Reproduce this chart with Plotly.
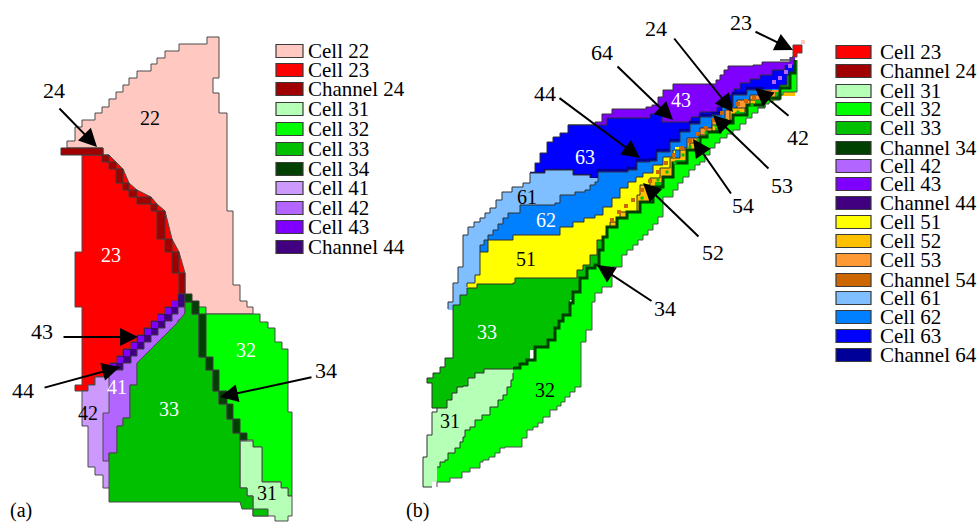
import plotly.graph_objects as go

COL = {"Cell 22":"#FFC8C0","Cell 23":"#FF0000","Channel 24":"#A00000","Cell 31":"#B6FFB6","Cell 32":"#00FF00",
       "Cell 33":"#00C000","Cell 34":"#004000","Channel 34":"#004000","Cell 41":"#CC99FF","Cell 42":"#B266FF",
       "Cell 43":"#8000FF","Channel 44":"#400080","Cell 51":"#FFFF00","Cell 52":"#FFC000","Cell 53":"#FF9933",
       "Channel 54":"#CC6600","Cell 61":"#80BFFF","Cell 62":"#0080FF","Cell 63":"#0000FF","Channel 64":"#000099"}

# ---------- panel (a) outlines ----------
A_22 = [(207,37),(219,37),(219,78),(213,78),(213,93),(219,93),(219,113),(227,113),(227,211),(233,211),(233,285),(240,285),
        (240,301),(247,301),(247,307),(253,307),(253,314),(199,314),(185,300),(103,155),(103,148),(67,148),(67,141),(75,141),
        (75,127),(82,127),(82,120),(95,120),(95,113),(102,113),(102,107),(109,107),(109,99),(116,99),(116,92),(123,92),(123,85),
        (129,85),(129,78),(137,78),(137,71),(151,71),(151,64),(157,64),(157,58),(165,58),(165,51),(179,51),(179,44),(207,44)]
A_23 = [(82,155),(82,252),(75,252),(75,307),(82,307),(82,385),(75,385),(75,391),(88,391),(88,385),(95,385),(95,377),(110,377),
        (185,300),(185,273),(179,252),(172,239),(165,211),(157,204),(151,197),(137,190),(129,183),(123,169),(116,162),(109,155),(102,155)]
A_41 = [(109,377),(95,377),(95,385),(88,385),(88,391),(82,391),(82,426),(88,426),(88,467),(95,467),(95,475),(103,475),(103,488),
        (109,488),(125,440)]
A_42 = [(185,307),(185,320),(178,320),(178,328),(172,328),(172,335),(165,335),(165,342),(158,342),(158,349),(151,349),(151,356),
        (144,356),(144,363),(137,363),(137,385),(130,385),(130,418),(123,418),(123,426),(117,426),(117,453),(109,453),(109,461),
        (103,461),(103,413),(109,413),(109,370),(117,363),(178,301)]
A_44 = [(185,294),(178,294),(178,301),(172,301),(172,307),(165,307),(165,314),(158,314),(158,321),(151,321),(151,328),(144,328),
        (144,335),(137,335),(137,342),(131,342),(131,349),(123,349),(123,356),(117,356),(117,363),(110,363),(110,370),(123,370),
        (123,363),(131,363),(131,356),(137,356),(137,349),(144,349),(144,342),(151,342),(151,335),(158,335),(158,328),(165,328),
        (165,321),(172,321),(172,314),(178,314),(178,307),(185,307)]
A_43_SQUARES_X = [175,168,161,155,148,141,134,127,120,113]
A_43_SQUARES_Y = [304,311,318,325,332,339,346,353,360,367]
A_24 = [(61,148),(103,148),(103,155),(109,155),(109,162),(116,162),(116,169),(123,169),(123,183),(129,183),(129,190),(137,190),
        (137,197),(151,197),(151,204),(157,204),(157,211),(165,211),(165,239),(172,239),(172,252),(179,252),(179,273),(185,273),
        (185,294),(179,294),(179,273),(172,273),(172,252),(165,252),(165,239),(157,239),(157,211),(151,211),(151,204),(137,204),
        (137,197),(129,197),(129,190),(123,190),(123,183),(116,183),(116,169),(109,169),(109,162),(102,162),(102,155),(61,155)]
A_32 = [(199,307),(206,307),(206,314),(260,314),(260,322),(268,322),(268,328),(275,328),(275,342),(282,342),(282,349),(288,349),
        (288,412),(292,412),(292,496),(288,496),(288,488),(281,488),(281,482),(262,482),(262,447),(253,447),(253,440),(232,440),
        (210,400),(199,370),(195,320)]
A_31 = [(240,441),(253,441),(253,447),(262,447),(262,482),(281,482),(281,488),(288,488),(288,496),(292,496),(292,516),(288,516),
        (288,521),(275,521),(275,516),(253,516),(253,509),(253,496),(247,496),(247,488),(240,488)]
A_33 = [(185,302),(192,302),(192,314),(199,314),(199,357),(206,357),(206,370),(213,370),(213,391),(219,391),(219,404),(227,404),
        (227,419),(233,419),(233,433),(240,433),(240,488),(247,488),(247,496),(253,496),(253,509),(268,509),(268,516),(253,516),
        (253,509),(242,509),(240,502),(109,502),(109,453),(117,453),(117,426),(123,426),(123,418),(130,418),(130,385),(137,385),
        (137,363),(144,356),(151,349),(158,342),(165,335),(172,328),(178,322),(185,313)]
A_34 = [(185,294),(192,294),(192,301),(199,301),(199,314),(206,314),(206,357),(213,357),(213,370),(219,370),(219,391),(227,391),
        (227,404),(233,404),(233,419),(240,419),(240,433),(247,433),(247,440),(240,440),(240,433),(233,433),(233,419),(227,419),
        (227,404),(219,404),(219,391),(213,391),(213,370),(206,370),(206,357),(199,357),(199,314),(192,314),(192,302),(185,302)]

# ---------- panel (b): visible edge of each cell, one vertex per stair ----------
B_UNDER = [(795,92),(775,100),(755,112),(735,128),(715,142),(695,160),(675,182),(655,210),(640,225),(620,250),(600,275),(590,300),(570,350)]
B_43 = [(568,125),(595,122),(602,114),(612,109),(640,109),(646,107),(652,105),(658,97),(663,90),(673,84),(712,84),(716,80),(720,75),(724,70),(728,66),(753,65),
        (762,62),(780,62),(790,57)]
B_63 = [(530,173),(535,163),(540,153),(547,142),(553,137),(560,133),(568,125),(595,125),(607,118),(650,114),(658,115),(662,122),(682,122),
        (691,117),(700,112),(717,107),(722,101),(728,95),(734,89),(740,83),(750,79),(760,75),(772,70),(785,65)]
B_64_LINE = [(530,173),(545,170),(565,170),(573,175),(590,178),(598,170),(628,168),(637,160),(650,159),(657,150),(670,140),(680,130),
             (690,122),(700,115),(712,113),(722,105),(733,93),(747,88),(763,87)]
B_61 = [(448,309),(448,302),(453,302),(453,283),(458,283),(458,267),(463,265),(463,235),(468,227),(474,222),(480,218),(485,213),(490,208),
        (496,200),(502,192),(512,187),(523,183),(530,173),(545,170),(565,170),(573,175),(590,178)]
B_61_BACK = [(600,225),(520,240),(500,310),(455,310)]
B_62 = [(480,252),(480,245),(484,240),(488,235),(493,230),(498,224),(503,218),(508,213),(520,205),(555,203),(560,195),(575,192),(585,190),(590,185),(595,182),(598,172),
        (628,170),(637,162),(650,161),(657,152),(670,142),(680,132),(690,124),(700,117),(712,115),(722,107),(733,95),(747,90),(763,89)]
B_51 = [(467,287),(467,283),(475,275),(480,273),(480,252),(488,248),(488,240),(513,235),(555,235),(560,227),(573,222),(584,218),(595,215),(603,207),
        (612,198),(620,188),(628,182),(636,177),(643,173),(653,165),(663,157),(673,150),(680,147)]
B_53 = [(680,148),(687,138),(700,128),(712,120),(725,110),(737,100),(750,95),(763,90),(772,90)]
B_52 = [(607,232),(610,222),(620,212),(637,195),(640,185),(650,178),(660,168),(670,158),(680,150),(690,143),(700,135),(712,125),(730,108),(750,100),
        (765,96)]
B_54_X = [612,619,626,633,642,650,658,666,674,682,690,698,706,714,722,738,746,754,762]
B_54_Y = [220,212,206,200,190,181,172,163,155,148,141,134,128,120,113,104,101,98,96]
B_33 = [(437,408),(432,395),(432,383),(427,378),(433,373),(440,367),(445,358),(453,350),(453,305),(460,295),(467,288),(477,284),(513,283),(515,278),(565,278),(577,270),(583,265),(590,255),(597,240),(607,230),
        (617,222),(627,214),(640,204),(653,190),(663,180),(673,167),(687,154),(700,142),(712,131),(730,120),(745,108),
        (765,100),(780,85),(787,75),(790,73),(795,62)]
B_33_BACK = [(530,380),(500,395),(470,412),(442,412)]
B_33_SQ_X = [642,650,658,667,675,683,690,698,706,716,726,738,752,770]
B_33_SQ_Y = [198,188,180,172,163,155,147,140,133,126,120,112,105,96]
B_31 = [(432,487),(423,482),(423,457),(427,457),(427,435),(432,433),(432,412),(437,408),(447,400),(452,393),(457,387),(463,386),(468,378),(475,373),(484,369),(513,369)]
B_31_BACK = [(520,385),(515,410),(500,425),(480,445),(465,460),(450,475),(445,482)]
B_34_LINE = [(513,368),(520,364),(527,360),(535,347),(548,340),(555,328),(559,321),(563,315),(570,303),(573,292),(580,278),(587,268),(595,265),(599,250),(603,237),(607,227),
             (617,218),(627,212),(640,202),(653,187),(663,177),(673,163),(687,150),(700,137),(707,132),(720,123),(733,115),(747,105),
             (763,98),(780,88),(790,73),(795,60)]
B_32_OUTER = [(797,60),(797,92),(783,95),(778,98),(773,102),(769,104),(765,107),(758,113),(752,118),(746,124),(740,130),(733,134),(727,138),(720,143),(715,148),
              (710,155),(705,162),(700,165),(695,170),(689,177),(683,183),(678,190),(673,197),(663,205),(663,217),(658,224),(653,230),(648,235),(643,240),(638,245),(633,250),(627,255),(622,260),(622,267),
              (612,277),(612,287),(602,293),(595,302),(592,322),(592,330),(586,332),(586,342),(581,343),(581,387),(575,392),(570,397),(565,402),(561,406),(557,410),(550,417),(543,423),
              (538,427),(533,430),(527,438),(522,447),(505,448),(500,453),(495,457),(489,460),(483,462),(480,468),(470,472),(462,478),(450,482),(437,487)]
B_32_SOUTH = [(437,467),(440,462),(445,460),(448,453),(455,448),(460,442),(463,437),(465,430),(470,427),(475,420),(482,415),(490,407),
              (498,400),(503,395),(507,387),(511,380),(513,373)]
B_23 = [(780,60),(792,57),(793,45),(802,45),(802,53),(797,57),(792,60)]
B_24_X = [803]
B_24_Y = [42]
B_42_X = [774,780,786,790]
B_42_Y = [82,78,72,66]

# ---------- text ----------
LEGEND_A = ["Cell 22","Cell 23","Channel 24","Cell 31","Cell 32","Cell 33","Cell 34","Cell 41","Cell 42","Cell 43","Channel 44"]
LEGEND_B = ["Cell 23","Channel 24","Cell 31","Cell 32","Cell 33","Channel 34","Cell 42","Cell 43","Channel 44","Cell 51","Cell 52",
            "Cell 53","Channel 54","Cell 61","Cell 62","Cell 63","Channel 64"]
ROWS_A = [51,70,89,109,129,149,169,188,208,227,247]
ROWS_B = [52,71,91,109,128,148,166,184,203,222,241,260,280,298,317,336,355]
MAP_LABELS = [("22",150,118,"black"),("23",111,255,"white"),("32",246,350,"white"),("33",169,409,"white"),("41",117,387,"white"),
              ("42",88,413,"black"),("31",267,493,"black"),("43",681,100,"white"),("63",585,157,"white"),("61",527,197,"black"),
              ("62",546,220,"white"),("51",526,259,"black"),("33",487,332,"white"),("31",450,421,"black"),("32",545,390,"black")]
ARROWS = [("24",54,90,58,107,97,147),("43",42,331,62,337,138,337),("44",23,390,43,388,120,367),("34",326,370,313,377,220,397),
          ("23",741,22,754,31,793,50),("24",656,28,673,37,733,112),("64",602,52,616,65,673,120),("44",545,93,558,97,640,158),
          ("42",798,137,790,117,755,88),("53",782,185,770,170,713,115),("54",743,205,732,195,693,139),("52",713,252,700,238,643,183),
          ("34",665,308,653,302,597,265)]

fig = go.Figure()

def poly(points, color, shape="linear", lw=1.0, lc="#4a4a4a"):
    xs = [p[0] for p in points] + [points[0][0]]
    ys = [p[1] for p in points] + [points[0][1]]
    fig.add_trace(go.Scatter(x=xs, y=ys, mode="lines", fill="toself", fillcolor=color,
                             line=dict(color=lc, width=lw, shape=shape), hoverinfo="skip", showlegend=False))

def filled(points, color):
    fig.add_trace(go.Scatter(x=[p[0] for p in points]+[points[0][0]], y=[p[1] for p in points]+[points[0][1]], mode="lines",
                             fill="toself", fillcolor=color, line=dict(color=color, width=0, shape="hv"),
                             hoverinfo="skip", showlegend=False))

def squares(xs, ys, color, size):
    fig.add_trace(go.Scatter(x=xs, y=ys, mode="markers", hoverinfo="skip", showlegend=False,
                             marker=dict(symbol="square", size=size, color=color, line=dict(width=0))))

def stepline(points, color, width):
    fig.add_trace(go.Scatter(x=[p[0] for p in points], y=[p[1] for p in points], mode="lines", hoverinfo="skip",
                             showlegend=False, line=dict(color=color, width=width, shape="hv")))

def layer(edge, name, back):
    """Fill a cell under the later ones, then ink only its visible edge."""
    filled(edge + back, COL[name])
    stepline(edge, "#303030", 1)

# panel (a)
for pts, name in [(A_22,"Cell 22"),(A_23,"Cell 23"),(A_24,"Channel 24"),(A_32,"Cell 32"),(A_41,"Cell 41"),(A_42,"Cell 42"),
                  (A_44,"Channel 44"),(A_31,"Cell 31"),(A_33,"Cell 33"),(A_34,"Channel 34")]:
    poly(pts, COL[name], lc="#3a3a3a" if name.startswith("Channel") else "#4a4a4a")
squares(A_43_SQUARES_X, A_43_SQUARES_Y, COL["Cell 43"], 6)

# panel (b)
layer(B_43, "Cell 43", B_UNDER)
layer(B_63, "Cell 63", B_UNDER)
stepline(B_64_LINE, COL["Channel 64"], 2.5)
layer(B_61, "Cell 61", B_61_BACK)
layer(B_62, "Cell 62", B_UNDER)
layer(B_51, "Cell 51", B_UNDER[6:])
layer(B_53, "Cell 53", B_UNDER[:6])
layer(B_52, "Cell 52", B_UNDER[:11])
squares(B_54_X, B_54_Y, COL["Channel 54"], 4)
layer(B_33, "Cell 33", B_UNDER + B_33_BACK)
layer(B_31, "Cell 31", B_31_BACK)
filled(B_34_LINE + B_32_OUTER + B_32_SOUTH, COL["Cell 32"])
stepline(B_32_OUTER, "#505050", 1)
stepline(B_32_SOUTH, "#303030", 1)
stepline(B_34_LINE, COL["Channel 34"], 3)
squares(B_33_SQ_X, B_33_SQ_Y, COL["Cell 33"], 3)
poly(B_23, COL["Cell 23"], shape="hv")
squares(B_42_X, B_42_Y, COL["Cell 42"], 4)
squares(B_24_X, B_24_Y, COL["Cell 22"], 4)

shapes, ann = [], []
def legend(names, rows, x0, x1, tx):
    for n, y in zip(names, rows):
        shapes.append(dict(type="rect", xref="x", yref="y", x0=x0, x1=x1, y0=y-6.5, y1=y+6.5, fillcolor=COL[n],
                           line=dict(color="#3a3a3a", width=1.2)))
        ann.append(dict(x=tx, y=y, text=n, showarrow=False, xanchor="left", yanchor="middle", font=dict(size=21)))
legend(LEGEND_A, ROWS_A, 276, 303, 306)
legend(LEGEND_B, ROWS_B, 836, 871, 878)

for t, x, y, c in MAP_LABELS:
    ann.append(dict(x=x, y=y, text=t, showarrow=False, font=dict(size=20, color=c)))
for t, lx, ly, tx, ty, hx, hy in ARROWS:
    ann.append(dict(x=lx, y=ly, text=t, showarrow=False, font=dict(size=22)))
    ann.append(dict(x=hx, y=hy, ax=tx, ay=ty, axref="x", ayref="y", text="", showarrow=True, arrowhead=2, arrowsize=1.8,
                    arrowwidth=2, arrowcolor="black"))
ann.append(dict(x=8, y=510, text="(a)", showarrow=False, xanchor="left", font=dict(size=20)))
ann.append(dict(x=404, y=510, text="(b)", showarrow=False, xanchor="left", font=dict(size=20)))

fig.update_layout(width=979, height=522, margin=dict(l=0, r=0, t=0, b=0), paper_bgcolor="white", plot_bgcolor="white",
                  showlegend=False, shapes=shapes, annotations=ann,
                  font=dict(family="Liberation Serif", color="black"),
                  xaxis=dict(range=[0,979], visible=False), yaxis=dict(range=[522,0], visible=False))
fig.write_html("out.html", post_script="document.body.style.margin='0';", config=dict(displayModeBar=False))
